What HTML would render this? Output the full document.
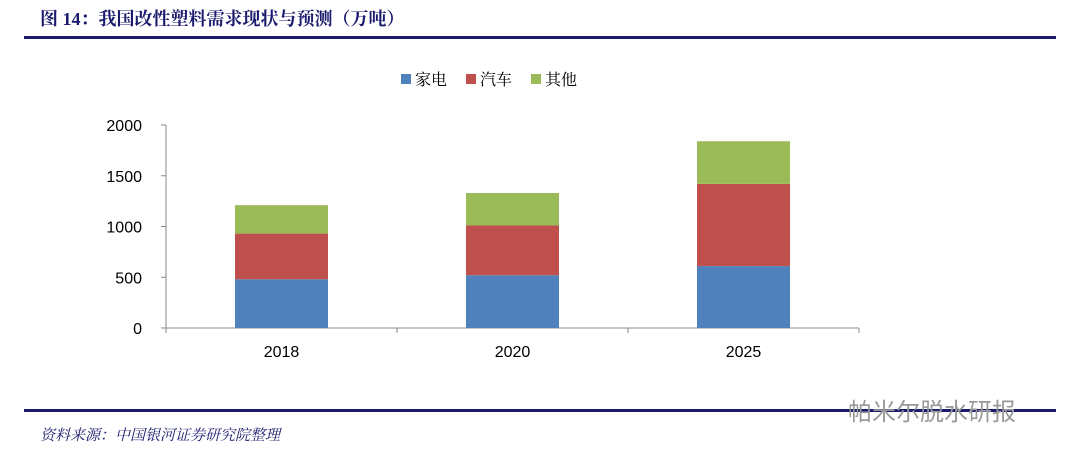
<!DOCTYPE html>
<html><head><meta charset="utf-8"><style>
body{margin:0;width:1080px;height:460px;background:#fff;overflow:hidden;font-family:"Liberation Sans","Noto Serif CJK SC",serif;}
</style></head><body>
<svg width="1080" height="460" xmlns="http://www.w3.org/2000/svg" id="chart">
<text x="40" y="25" font-size="18" font-weight="bold" fill="#1a1a6e" font-family="'Liberation Serif','Noto Serif CJK SC',serif">图 14：我国改性塑料需求现状与预测（万吨）</text>
<rect x="24" y="36" width="1032" height="3" fill="#1a1a6e"/>
<rect x="24" y="409" width="1032" height="3" fill="#1a1a6e"/>
<text x="40" y="440" font-size="15" font-style="italic" fill="#1a1a6e" font-family="'Liberation Serif','Noto Serif CJK SC',serif">资料来源：中国银河证券研究院整理</text>
<text x="848" y="420" font-size="24" fill="#999" font-family="'Noto Sans CJK SC',sans-serif">帕米尔脱水研报</text>
<g id="legend"></g>
<g id="axes"></g>
<g id="bars"></g>
</svg>
<script>
const categories=["2018","2020","2025"];
const seriesNames=["家电","汽车","其他"];
const appliance=[480,520,610];
const auto=[450,490,810];
const other=[280,320,420];
const yTicks=[0,500,1000,1500,2000];
const colors=["#4f81bd","#c0504d","#9bbb59"];
const NS="http://www.w3.org/2000/svg";
const x0=166,x1=859,yBase=328,yTop=125,yMax=2000;
const y=v=>yBase-(v/yMax)*(yBase-yTop);
const band=(x1-x0)/categories.length;
const xc=i=>x0+band*(i+0.5);
function mk(t,a,p){const e=document.createElementNS(NS,t);for(const k in a)e.setAttribute(k,a[k]);p.appendChild(e);return e;}
const axes=document.getElementById('axes'),bars=document.getElementById('bars'),legend=document.getElementById('legend');
let l=mk('line',{x1:x0,y1:yTop,x2:x0,y2:yBase,stroke:'#888'},axes);


l=mk('line',{x1:x0,y1:yBase,x2:x1,y2:yBase,stroke:'#888'},axes);


yTicks.forEach(v=>{
 mk('line',{x1:x0-5,y1:y(v),x2:x0,y2:y(v),stroke:'#888'},axes);
 const t=mk('text',{x:x0-24,y:y(v)+6,'text-anchor':'end','font-size':16,fill:'#000'},axes);t.textContent=v;
 
 
});
for(let i=0;i<=categories.length;i++)mk('line',{x1:x0+band*i,y1:yBase,x2:x0+band*i,y2:yBase+5,stroke:'#888'},axes);
const series=[appliance,auto,other];
categories.forEach((c,i)=>{
 const t=mk('text',{x:xc(i),y:357,'text-anchor':'middle','font-size':16,fill:'#000'},axes);t.textContent=c;
 
 
 let acc=0;
 series.forEach((s,k)=>{
  const r=mk('rect',{x:xc(i)-46.5,y:y(acc+s[i]),width:93,height:y(acc)-y(acc+s[i]),fill:colors[k]},bars);
  
  
  acc+=s[i];
 });
});
seriesNames.forEach((n,k)=>{
 const lx=401+k*65;
 const r=mk('rect',{x:lx,y:74,width:10,height:10,fill:colors[k]},legend);
 
 
 const t=mk('text',{x:lx+14,y:85,'font-size':16,fill:'#000','font-family':"'Noto Serif CJK SC',serif"},legend);t.textContent=n;
 
 
});
</script>
</body></html>
